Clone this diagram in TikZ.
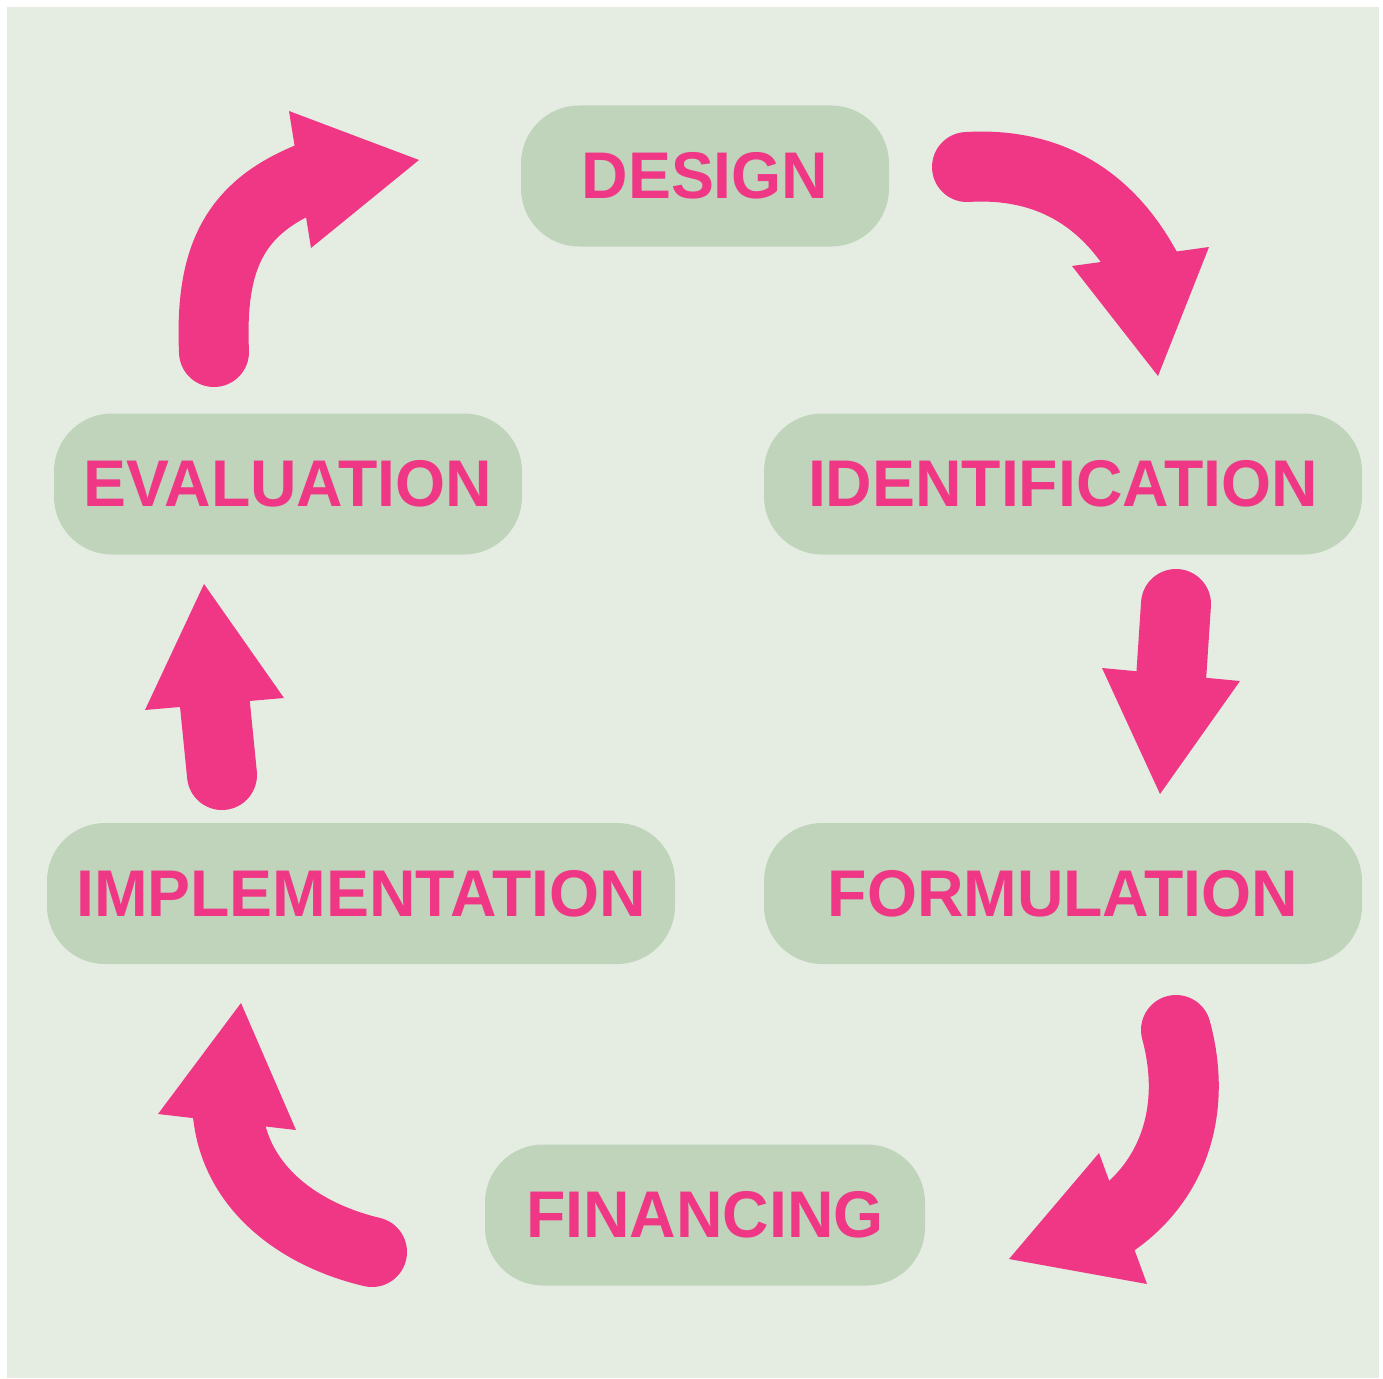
\documentclass[tikz,border=0pt]{standalone}
\usepackage{fontspec}
\newfontfamily\lblfont{Liberation Sans}[FakeStretch=0.975]
\definecolor{bgpale}{HTML}{E5EDE2}
\definecolor{boxgreen}{HTML}{C0D3BB}
\definecolor{hotpink}{HTML}{EF3786}
\tikzset{
  stage/.style={fill=boxgreen, rounded corners=58pt, minimum height=141pt,
    inner sep=0pt, text=hotpink, font=\lblfont\bfseries\fontsize{66}{72}\selectfont},
  flow/.style={draw=hotpink, line width=70pt, line cap=round, line join=round},
  head/.style={fill=hotpink},
}
\begin{document}
\begin{tikzpicture}[x=1pt, y=-1pt]
\useasboundingbox (0,0) rectangle (1383,1378);
\fill[bgpale] (7,7) rectangle (1379,1378);

% stages of the cycle
\node[stage, minimum width=368pt] (design) at (705,176) {DESIGN};
\node[stage, minimum width=598pt] (ident) at (1063,484) {IDENTIFICATION};
\node[stage, minimum width=598pt] (formul) at (1063,893.5) {FORMULATION};
\node[stage, minimum width=440pt] (financ) at (705,1215) {FINANCING};
\node[stage, minimum width=628pt] (implem) at (361,893.5) {IMPLEMENTATION};
\node[stage, minimum width=468pt] (evalu) at (288,484) {EVALUATION};

% design -> identification
\coordinate (a1s) at (967,167);
\coordinate (a1e) at (1140,258);
\coordinate (a1x) at (1150,275);
\draw[flow] (a1s) .. controls (1050,162) and (1105,200) .. (a1e) -- (a1x);
\fill[head] (1072,266) -- (1209,247) -- (1158,376) -- cycle;

% identification -> formulation
\coordinate (a2s) at (1176,604);
\coordinate (a2x) at (1170,695);
\draw[flow] (a2s) -- (a2x);
\fill[head] (1102,668) -- (1240,681) -- (1160,794) -- cycle;

% formulation -> financing
\coordinate (a3s) at (1176,1030);
\coordinate (a3e) at (1122,1216);
\coordinate (a3x) at (1106,1228);
\draw[flow] (a3s) .. controls (1195,1100) and (1180,1170) .. (a3e) -- (a3x);
\fill[head] (1099,1153) -- (1009,1259) -- (1147,1284) -- cycle;

% financing -> implementation
\coordinate (a4s) at (372,1252);
\coordinate (a4e) at (229,1122);
\coordinate (a4x) at (226,1102);
\draw[flow] (a4s) .. controls (300,1235) and (240,1190) .. (a4e) -- (a4x);
\fill[head] (158,1114) -- (241,1003) -- (296,1130) -- cycle;

% implementation -> evaluation
\coordinate (a5s) at (222,775);
\coordinate (a5x) at (213,685);
\draw[flow] (a5s) -- (a5x);
\fill[head] (145,710) -- (204,584) -- (284,698) -- cycle;

% evaluation -> design
\coordinate (a6s) at (214,352);
\coordinate (a6e) at (301,181);
\coordinate (a6x) at (319,173);
\draw[flow] (a6s) .. controls (210,262) and (232,212) .. (a6e) -- (a6x);
\fill[head] (289,111) -- (419,160) -- (311,248) -- cycle;
\end{tikzpicture}
\end{document}
